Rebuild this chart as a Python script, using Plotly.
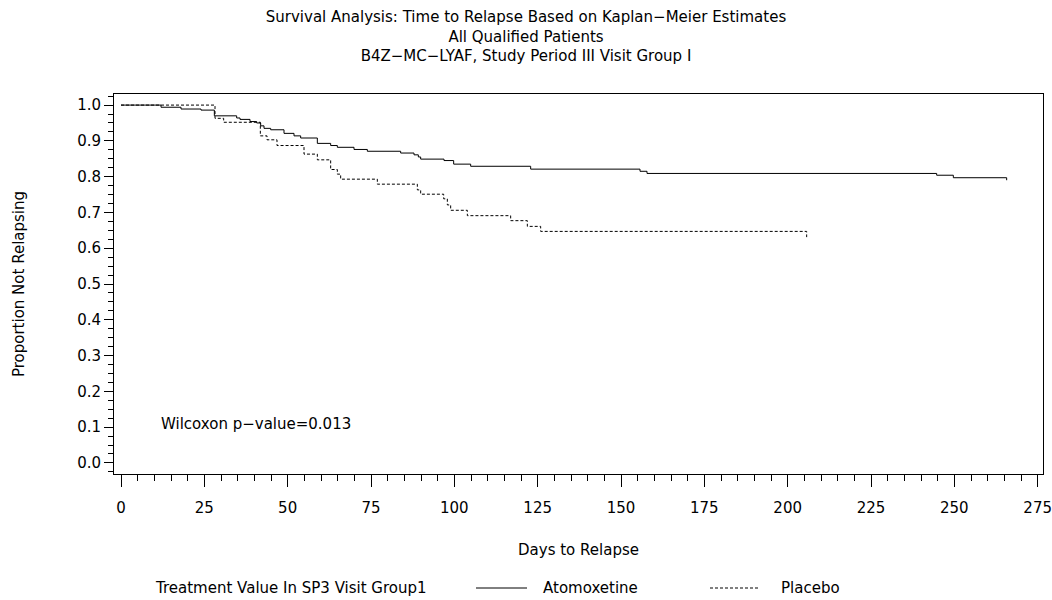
import plotly.graph_objects as go

# Kaplan-Meier step data (event day, survival after the event)
atx_days = [0, 12, 18, 24, 28, 34.7, 35.7, 38.7, 40.7, 41.9, 42.9, 44.9, 48.9, 51.9, 53.9,
            58.9, 62.9, 64.9, 69.9, 73.9, 83.9, 87.9, 89.2, 89.9, 96.9, 99.8, 104.9, 122.9,
            155.7, 157.8, 244.7, 249.7, 265.7]
atx_surv = [1.0, 0.994, 0.989, 0.986, 0.970, 0.964, 0.960, 0.954, 0.950, 0.942, 0.935, 0.931,
            0.921, 0.914, 0.908, 0.893, 0.887, 0.882, 0.876, 0.871, 0.866, 0.861, 0.855, 0.849,
            0.845, 0.835, 0.829, 0.821, 0.815, 0.809, 0.804, 0.797, 0.790]
atx_end = 265.7

pbo_days = [0, 28.2, 30.8, 41.8, 43.8, 46.8, 54.9, 58.9, 62.9, 64.9, 65.9, 76.9, 88.9, 89.9,
            96.8, 97.9, 98.9, 103.9, 116.9, 121.9, 125.9, 205.7]
pbo_surv = [1.0, 0.963, 0.952, 0.914, 0.903, 0.887, 0.863, 0.847, 0.820, 0.807, 0.793, 0.779,
            0.763, 0.751, 0.738, 0.721, 0.706, 0.691, 0.677, 0.661, 0.647, 0.631]
pbo_end = 205.7

x_ticks = [0, 25, 50, 75, 100, 125, 150, 175, 200, 225, 250, 275]
y_ticks = [0.0, 0.1, 0.2, 0.3, 0.4, 0.5, 0.6, 0.7, 0.8, 0.9, 1.0]

title_lines = ["Survival Analysis: Time to Relapse Based on Kaplan\u2212Meier Estimates",
               "All Qualified Patients",
               "B4Z\u2212MC\u2212LYAF, Study Period III Visit Group I"]
pvalue_text = "Wilcoxon p\u2212value=0.013"
legend_title = "Treatment Value In SP3 Visit Group1"
series_names = ["Atomoxetine", "Placebo"]

FONT = "DejaVu Sans"
FS = 15

fig = go.Figure()
fig.add_trace(go.Scatter(
    x=atx_days + [atx_end], y=atx_surv + [atx_surv[-1]],
    mode="lines", line=dict(shape="hv", color="black", width=1),
    name=series_names[0], showlegend=False))
fig.add_trace(go.Scatter(
    x=pbo_days + [pbo_end], y=pbo_surv + [pbo_surv[-1]],
    mode="lines", line=dict(shape="hv", color="black", width=1, dash="3px,2px"),
    name=series_names[1], showlegend=False))

fig.add_annotation(x=11.5, y=0.11, xref="x", yref="y", text=pvalue_text,
                   showarrow=False, xanchor="left", yanchor="middle",
                   font=dict(family=FONT, size=FS, color="black"))

# manual legend row (below the plot)
PL, PW, PT, PH = 114, 929, 94, 380
def px(x):
    return (x - PL) / PW
def py(y):
    return (PT + PH - y) / PH
LEG_Y = 588
fig.add_annotation(x=px(153), y=py(LEG_Y), xref="paper", yref="paper", text=legend_title,
                   showarrow=False, xanchor="left", yanchor="middle",
                   font=dict(family=FONT, size=FS, color="black"))
fig.add_shape(type="line", xref="paper", yref="paper", x0=px(476), x1=px(527),
              y0=py(LEG_Y), y1=py(LEG_Y), line=dict(color="black", width=1))
fig.add_annotation(x=px(541), y=py(LEG_Y), xref="paper", yref="paper", text=series_names[0],
                   showarrow=False, xanchor="left", yanchor="middle",
                   font=dict(family=FONT, size=FS, color="black"))
fig.add_shape(type="line", xref="paper", yref="paper", x0=px(710), x1=px(760),
              y0=py(LEG_Y), y1=py(LEG_Y), line=dict(color="black", width=1, dash="3px,2px"))
fig.add_annotation(x=px(779), y=py(LEG_Y), xref="paper", yref="paper", text=series_names[1],
                   showarrow=False, xanchor="left", yanchor="middle",
                   font=dict(family=FONT, size=FS, color="black"))

fig.update_layout(
    width=1052, height=600,
    margin=dict(l=114, r=9, t=94, b=126, autoexpand=False),
    paper_bgcolor="white", plot_bgcolor="white",
    font=dict(family=FONT, size=FS, color="black"),
    title=dict(text="<br>".join(title_lines), x=0.5, xref="container", xanchor="center",
               y=1 - 22 / 600, yref="container", yanchor="middle",
               font=dict(family=FONT, size=FS, color="black")),
    showlegend=False,
)

fig.update_xaxes(
    range=[-2.1, 276.6], tickvals=x_ticks, ticktext=[str(v) for v in x_ticks],
    showline=True, linecolor="black", linewidth=1, mirror=True,
    ticks="outside", ticklen=12, tickwidth=1, tickcolor="black",
    minor=dict(dtick=5, tick0=0, ticks="outside", ticklen=6, tickcolor="black", tickwidth=1),
    showgrid=False, zeroline=False, automargin=False,
    ticklabelstandoff=8,
    title=dict(text="Days to Relapse", standoff=28, font=dict(family=FONT, size=FS)),
)
fig.update_yaxes(
    range=[-0.031, 1.031], tickvals=y_ticks, ticktext=[f"{v:.1f}" for v in y_ticks],
    showline=True, linecolor="black", linewidth=1, mirror=True,
    ticks="outside", ticklen=9, tickwidth=1, tickcolor="black",
    minor=dict(dtick=0.025, tick0=0, ticks="outside", ticklen=5, tickcolor="black", tickwidth=1),
    showgrid=False, zeroline=False, automargin=False,
    title=dict(text="Proportion Not Relapsing", standoff=48, font=dict(family=FONT, size=FS)),
)

fig.write_html("out.html")
